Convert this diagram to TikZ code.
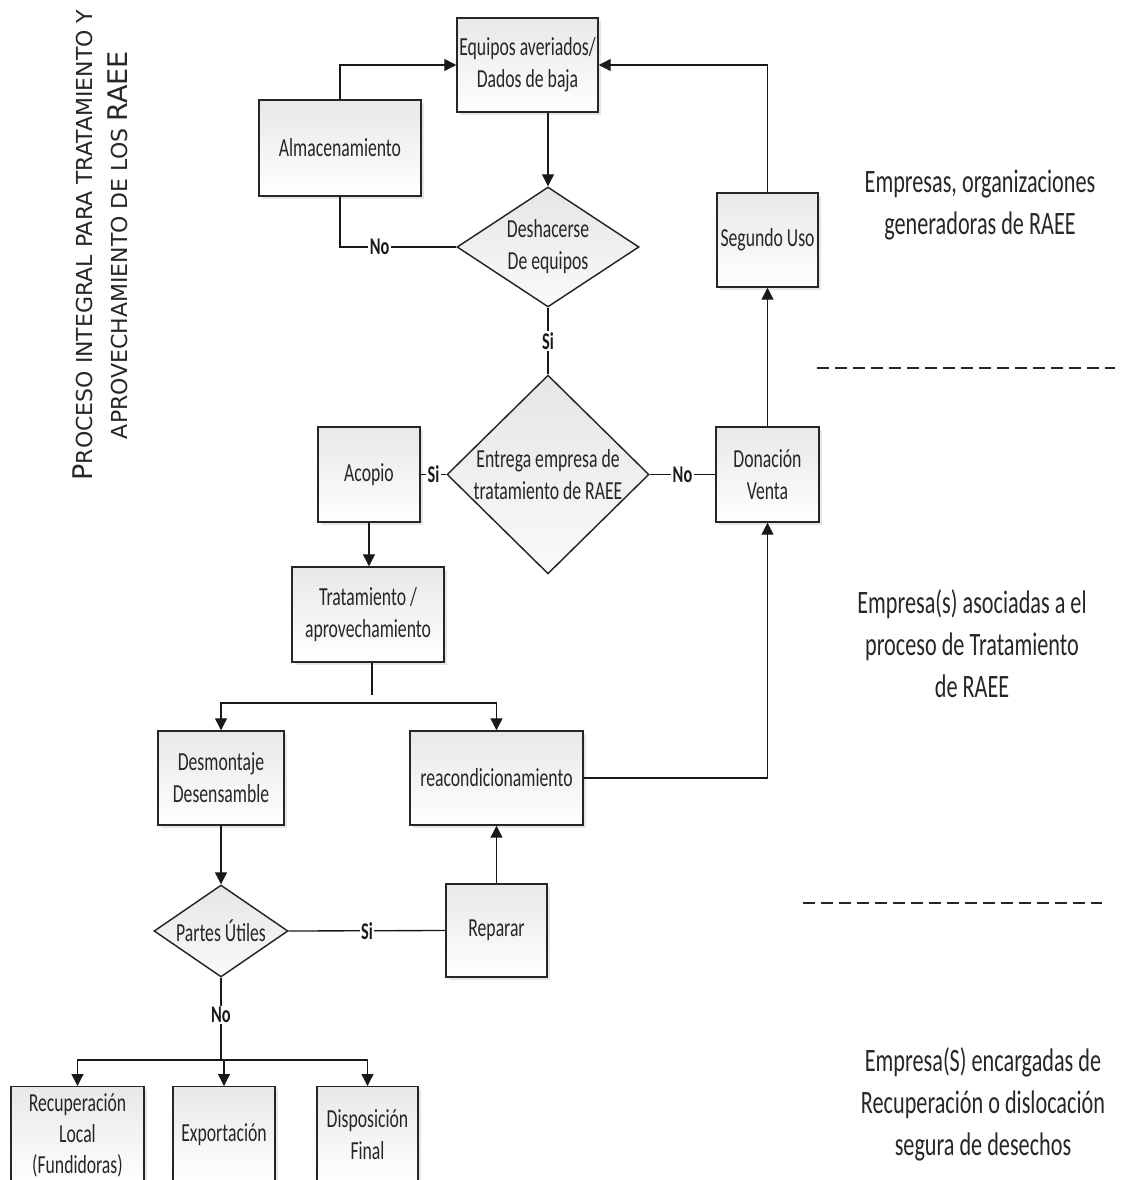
\documentclass[tikz,border=0pt]{standalone}
\usepackage{fontspec}
\setmainfont{Carlito}[FakeStretch=0.68]
\newfontfamily\titulofont{DejaVu Sans}
\usetikzlibrary{shapes.geometric,arrows.meta,shadows}

\tikzset{
  caja/.style={draw=black!85, line width=1.1pt, rectangle, top color=black!9, bottom color=white, align=center, text=black!85, inner sep=0pt, font=\fontsize{19.5}{24}\selectfont, drop shadow={shadow xshift=2pt, shadow yshift=-2pt, opacity=0.2}},
  rombo/.style={draw=black!85, line width=1.1pt, diamond, top color=black!10, bottom color=black!2, align=center, text=black!85, inner sep=0pt, font=\fontsize{19.5}{24}\selectfont},
  flecha/.style={line width=1pt, draw=black!90, -{Triangle[length=9pt,width=9pt]}},
  linea/.style={line width=1pt, draw=black!90},
  etiq/.style={fill=white, inner sep=1pt, text=black!90, font=\bfseries\fontsize{18}{20}\selectfont},
  nota/.style={align=center, text=black!85, font=\fontsize{24.5}{31.5}\selectfont},
  divisoria/.style={line width=1.1pt, draw=black!85, dash pattern=on 9pt off 4.5pt}
}

\begin{document}
\begin{tikzpicture}[x=0.75pt,y=0.75pt,yscale=-1,xscale=1]
\useasboundingbox (0,0) rectangle (1120,1180);
\clip (0,0) rectangle (1120,1180);

% Text Node: titulo
\node (titulo) [rotate=90, align=center, text=black!85, font=\titulofont\fontsize{16.5}{26}\selectfont] at (100,245) {{\fontsize{20.3}{26}\selectfont P}ROCESO INTEGRAL PARA TRATAMIENTO Y\\APROVECHAMIENTO DE LOS {\fontsize{20.3}{26}\selectfont RAEE}};

%Shape: Cajas superiores
\node (equipos) [caja, minimum width=105.75pt, minimum height=70.5pt] at (527.5,65) {Equipos averiados/\\Dados de baja};
\node (almac) [caja, minimum width=121.5pt, minimum height=72pt] at (340,148) {Almacenamiento};
\node (segundo) [caja, minimum width=75.75pt, minimum height=70.5pt] at (767.5,240) {Segundo Uso};

%Shape: Rombos
\node (deshacer) [rombo, aspect=1.5, minimum width=136.5pt, minimum height=90pt] at (548,247) {Deshacerse\\De equipos};
\node (entrega) [rombo, aspect=1, minimum width=151.5pt, minimum height=146.25pt] at (548,474.5) {Entrega empresa de\\tratamiento de RAEE};

%Shape: Cajas centrales
\node (acopio) [caja, minimum width=76.5pt, minimum height=71.25pt] at (369,474.5) {Acopio};
\node (donacion) [caja, minimum width=77.25pt, minimum height=71.25pt] at (767.5,474.5) {Donación\\Venta};
\node (tratam) [caja, minimum width=114pt, minimum height=71.25pt] at (368,614.5) {Tratamiento /\\aprovechamiento};
\node (desmont) [caja, minimum width=94.5pt, minimum height=70.5pt] at (221,778) {Desmontaje\\Desensamble};
\node (reacond) [caja, minimum width=129.75pt, minimum height=70.5pt] at (496.5,778) {reacondicionamiento};
\node (reparar) [caja, minimum width=75.75pt, minimum height=69.75pt] at (496.5,930.5) {Reparar};
\node (partes) [rombo, aspect=1.45, minimum width=100.5pt, minimum height=69pt] at (221,931) {Partes Útiles};

%Shape: Cajas inferiores
\node (recup) [caja, anchor=north, minimum width=99.75pt, minimum height=72.5pt, font=\fontsize{19.5}{23.2}\selectfont] at (77.5,1086) {Recuperación\\Local\\(Fundidoras)};
\node (export) [caja, anchor=north, minimum width=76.5pt, minimum height=72.5pt] at (224,1086) {Exportación};
\node (dispos) [caja, anchor=north, minimum width=75.75pt, minimum height=72.5pt] at (367.5,1086) {Disposición\\Final};

% Conectores
\draw [flecha] (almac.north) |- (equipos.west);
\draw [flecha] (equipos.south -| deshacer.north) -- (deshacer.north);
\draw [linea] (deshacer.west) -| node [etiq, pos=0.33] {No} (almac.south);
\draw [linea] (deshacer.south) -- node [etiq] {Si} (entrega.north);
\draw [linea] (entrega.west) -- node [etiq] {Si} (acopio.east);
\draw [linea] (entrega.east) -- node [etiq] {No} (donacion.west);
\draw [flecha] (donacion.north) -- (segundo.south);
\draw [flecha] (segundo.north) |- (equipos.east);
\draw [flecha] (acopio.south) -- (acopio.south |- tratam.north);

\coordinate (ramal) at (372,703);
\draw [linea] (tratam.south -| ramal) -- ++(0,32);
\draw [flecha] (ramal) -| (desmont.north);
\draw [flecha] (ramal) -| (reacond.north);
\draw [flecha] (reacond.east) -| (donacion.south);
\draw [flecha] (reparar.north) -- (reacond.south);
\draw [flecha] (desmont.south) -- (partes.north);
\draw [linea] (partes.east) -- node [etiq] {Si} (reparar.west);

\coordinate (ramal2) at (224,1060);
\draw [linea] (partes.south) -- node [etiq, pos=0.45] {No} (partes.south |- ramal2);
\draw [flecha] (ramal2) -| (recup.north);
\draw [flecha] (ramal2) -- (export.north);
\draw [flecha] (ramal2) -| (dispos.north);

% Text Node: zonas
\node (nota1) [nota] at (980,205) {Empresas, organizaciones\\generadoras de RAEE};
\node (nota2) [nota] at (972,644) {Empresa(s) asociadas a el\\proceso de Tratamiento\\de RAEE};
\node (nota3) [nota] at (983,1104) {Empresa(S) encargadas de\\Recuperación o dislocación\\segura de desechos};
\draw [divisoria] (817,368) -- (1115,368);
\draw [divisoria] (803,903) -- (1102,903);

\end{tikzpicture}
\end{document}
